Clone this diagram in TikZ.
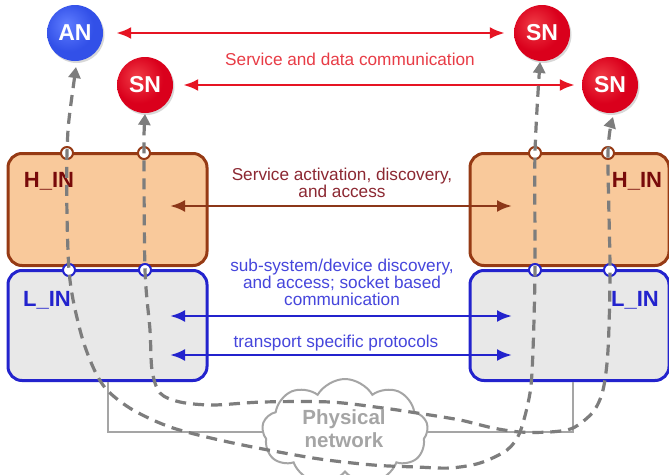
\documentclass[tikz,border=0pt]{standalone}
\usepackage{fontspec}
\setmainfont{Liberation Sans}
\usetikzlibrary{arrows.meta,shapes.symbols,shadows}
\definecolor{snlight}{RGB}{240,60,70}
\definecolor{snmid}{RGB}{218,0,28}
\definecolor{sndark}{RGB}{150,0,15}
\definecolor{anlight}{RGB}{95,125,255}
\definecolor{anmid}{RGB}{50,80,232}
\definecolor{andark}{RGB}{25,40,160}
\definecolor{redline}{RGB}{230,20,35}
\definecolor{redtext}{RGB}{232,60,70}
\definecolor{hfill}{RGB}{249,201,155}
\definecolor{hborder}{RGB}{150,58,20}
\definecolor{hlabelc}{RGB}{120,10,10}
\definecolor{brownline}{RGB}{140,55,25}
\definecolor{browntext}{RGB}{140,40,50}
\definecolor{lfill}{RGB}{232,232,232}
\definecolor{lborder}{RGB}{35,35,205}
\definecolor{bluetext}{RGB}{70,70,220}
\definecolor{dashgray}{RGB}{125,125,125}
\definecolor{netgray}{RGB}{165,165,165}
\pgfdeclareradialshading{snshade}{\pgfpoint{-8bp}{8bp}}{color(0bp)=(snlight); color(22bp)=(snmid); color(40bp)=(snmid); color(52bp)=(sndark); color(70bp)=(sndark)}
\pgfdeclareradialshading{anshade}{\pgfpoint{-8bp}{8bp}}{color(0bp)=(anlight); color(22bp)=(anmid); color(40bp)=(anmid); color(52bp)=(andark); color(70bp)=(andark)}
\tikzset{
  ball/.style={circle, minimum size=56pt, inner sep=0pt, text=white,
    font=\fontsize{23}{23}\selectfont\bfseries,
    drop shadow={opacity=0.3, shadow xshift=1.5pt, shadow yshift=-2pt}},
  snball/.style={ball, shading=snshade},
  anball/.style={ball, shading=anshade},
  redarrow/.style={draw=redline, line width=2.8pt, {Latex[length=15pt,width=12pt]}-{Latex[length=15pt,width=12pt]}},
  brownarrow/.style={draw=brownline, line width=2.8pt, {Latex[length=15pt,width=12pt]}-{Latex[length=15pt,width=12pt]}},
  bluearrow/.style={draw=lborder, line width=2.8pt, {Latex[length=15pt,width=12pt]}-{Latex[length=15pt,width=12pt]}},
  hbox/.style={rectangle, rounded corners=14pt, draw=hborder, fill=hfill, line width=3pt, minimum width=199pt, minimum height=112pt},
  lbox/.style={rectangle, rounded corners=14pt, draw=lborder, fill=lfill, line width=3pt, minimum width=199pt, minimum height=110pt},
  hlabel/.style={text=hlabelc, font=\fontsize{22}{22}\selectfont\bfseries, inner sep=0pt},
  llabel/.style={text=lborder, font=\fontsize{22}{22}\selectfont\bfseries, inner sep=0pt},
  lbl/.style={font=\fontsize{17.2}{17}\selectfont, align=center, inner sep=0pt},
  hport/.style={circle, draw=hborder, fill=white, line width=2pt, minimum size=12pt, inner sep=0pt},
  lport/.style={circle, draw=lborder, fill=white, line width=2pt, minimum size=12pt, inner sep=0pt},
  dashc/.style={draw=dashgray, line width=3.2pt, dash pattern=on 11pt off 7pt,
    {Triangle[length=11pt,width=12pt]}-{Triangle[length=11pt,width=12pt]}},
  netline/.style={draw=netgray, line width=2pt},
}
\begin{document}
\begin{tikzpicture}[x=1pt,y=-1pt]
\useasboundingbox (0,0) rectangle (669,474);
\clip (0,0) rectangle (669,474);
\fill[white] (0,0) rectangle (669,474);

% boxes
\node[hbox] (hl) at (107.5,209.5) {};
\node[hbox] (hr) at (569.5,209.5) {};
\node[lbox] (ll) at (107.5,325.5) {};
\node[lbox] (lr) at (569.5,325.5) {};
\node[hlabel] (hlt) at (49,181) {H\_IN};
\node[hlabel] (hrt) at (637,181) {H\_IN};
\node[llabel] (llt) at (47,300) {L\_IN};
\node[llabel] (lrt) at (635,300) {L\_IN};

% ports
\node[hport] (hp1) at (67,153) {};
\node[hport] (hp2) at (144,153) {};
\node[hport] (hp3) at (535,153) {};
\node[hport] (hp4) at (608,153) {};
\node[lport] (lp1) at (69,270) {};
\node[lport] (lp2) at (145,270) {};
\node[lport] (lp3) at (535,270) {};
\node[lport] (lp4) at (610,270) {};

% balls
\node[anball] (an) at (75,33) {AN};
\node[snball] (sn1) at (542,33) {SN};
\node[snball] (sn2) at (145,85) {SN};
\node[snball] (sn3) at (610,85) {SN};

% red arrows
\draw[redarrow, shorten <=13pt, shorten >=9pt] (an) -- (sn1);
\draw[redarrow, shorten <=10pt, shorten >=7pt] (sn2) -- (sn3);
\node[lbl, text=redtext] (t1) at (350,59) {Service and data communication};

% brown arrow
\coordinate (ba1) at (170,206);
\coordinate (ba2) at (512,206);
\draw[brownarrow] (ba1) -- (ba2);
\node[lbl, text=browntext] (t2) at (342,183) {Service activation, discovery,\\and access};

% blue arrows
\coordinate (bb1) at (170,316);
\coordinate (bb2) at (512,316);
\coordinate (bc1) at (170,355);
\coordinate (bc2) at (512,355);
\draw[bluearrow] (bb1) -- (bb2);
\draw[bluearrow] (bc1) -- (bc2);
\node[lbl, text=bluetext] (t3) at (342,282) {sub-system/device discovery,\\and access; socket based\\communication};
\node[lbl, text=bluetext] (t4) at (336,343) {transport specific protocols};

% physical network
\node[cloud, cloud puffs=9, cloud puff arc=120, cloud ignores aspect, draw=netgray, fill=white,
  line width=2pt, minimum width=166pt, minimum height=106pt, inner sep=0pt] (cloud) at (345,432) {};
\draw[netline] (ll.south) |- (cloud.west);
\draw[netline] (lr.south) ++(3,0) coordinate (lrs) (lrs) |- (cloud.east);

% dashed connectors
\coordinate (ta) at (76,67);
\coordinate (tb) at (145,114);
\coordinate (tc) at (540,62);
\coordinate (td) at (613,117);
\draw[dashc] plot[smooth, tension=0.5] coordinates {(ta) (hp1) (lp1) (80,330) (93,367) (107,390) (133,410) (173,428) (233,443) (313,458) (373,465) (417,467) (450,468) (480,463) (507,450) (520,432) (530,393) (533,350) (lp3) (hp3) (tc)};
\draw[dashc] plot[smooth, tension=0.5] coordinates {(tb) (hp2) (lp2) (150,330) (152,370) (160,393) (180,402) (213,405) (263,402) (330,402) (383,408) (417,413) (460,420) (493,428) (520,432) (550,432) (573,428) (593,412) (603,390) (608,350) (lp4) (hp4) (td)};

\node[text=netgray, font=\fontsize{20.5}{23}\selectfont\bfseries, align=center, inner sep=0pt] (cl) at (344,429) {Physical\\network};
\end{tikzpicture}
\end{document}
